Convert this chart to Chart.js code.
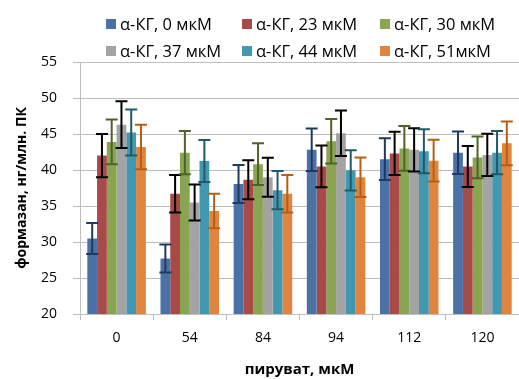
<!DOCTYPE html>
<html>
<head>
<meta charset="utf-8">
<script src="https://cdn.jsdelivr.net/npm/chart.js@4"></script>
<style>
  body { margin: 0; background: #fff; }
</style>
</head>
<body>
<canvas id="chart" width="519" height="379"></canvas>
<script>
const categories = ["0", "54", "84", "94", "112", "120"];
const seriesNames = ["α-КГ, 0 мкМ", "α-КГ, 23 мкМ", "α-КГ, 30 мкМ", "α-КГ, 37 мкМ", "α-КГ, 44 мкМ", "α-КГ, 51мкМ"];

const kg0 = [30.5, 27.7, 38.05, 42.8, 41.5, 42.4];
const kg23 = [42.0, 36.7, 38.65, 40.5, 42.3, 40.5];
const kg30 = [43.9, 42.4, 40.8, 44.0, 43.0, 41.75];
const kg37 = [46.3, 35.5, 39.0, 45.1, 42.8, 42.1];
const kg44 = [45.2, 41.25, 37.2, 39.95, 42.6, 42.4];
const kg51 = [43.2, 34.3, 36.7, 39.0, 41.3, 43.7];

// error bar half-widths
const err0 = [2.15, 1.95, 2.65, 2.95, 2.9, 2.95];
const err23 = [3.0, 2.6, 2.7, 2.9, 3.0, 2.85];
const err30 = [3.1, 3.0, 2.9, 3.1, 3.1, 2.9];
const err37 = [3.25, 2.5, 2.7, 3.15, 3.0, 2.95];
const err44 = [3.2, 2.9, 2.65, 2.8, 3.05, 3.0];
const err51 = [3.1, 2.4, 2.6, 2.75, 2.9, 3.05];

const yTicks = [20, 25, 30, 35, 40, 45, 50, 55];

const fills = ["#4A72A6", "#A84A47", "#8AA552", "#A3A3A3", "#4398B1", "#E0843E"];
const errColors = ["#1F3A5F", "#000000", "#4F6228", "#000000", "#215968", "#B65F14"];

const values = [kg0, kg23, kg30, kg37, kg44, kg51];
const errors = [err0, err23, err30, err37, err44, err51];

const FONT = "'Open Sans', sans-serif";

const errorBars = {
  id: "errorBars",
  afterDatasetsDraw(chart) {
    const ctx = chart.ctx;
    const y = chart.scales.y;
    chart.data.datasets.forEach((ds, i) => {
      const meta = chart.getDatasetMeta(i);
      meta.data.forEach((bar, j) => {
        const v = ds.data[j], e = ds.errors[j];
        const top = y.getPixelForValue(v + e);
        const bot = y.getPixelForValue(v - e);
        ctx.save();
        ctx.strokeStyle = ds.errColor;
        ctx.lineWidth = 2;
        ctx.beginPath();
        ctx.moveTo(bar.x, top); ctx.lineTo(bar.x, bot);
        ctx.moveTo(bar.x - 6, top); ctx.lineTo(bar.x + 6, top);
        ctx.moveTo(bar.x - 6, bot); ctx.lineTo(bar.x + 6, bot);
        ctx.stroke();
        ctx.restore();
      });
    });
  }
};

const legendGrid = {
  id: "legendGrid",
  afterDraw(chart) {
    const ctx = chart.ctx;
    const cols = [106, 242, 380];
    const rows = [24, 51];
    ctx.save();
    ctx.font = "16.5px " + FONT;
    ctx.textBaseline = "middle";
    chart.data.datasets.forEach((ds, i) => {
      const x = cols[i % 3], yy = rows[Math.floor(i / 3)];
      ctx.fillStyle = ds.backgroundColor;
      ctx.fillRect(x, yy - 5, 10, 10);
      ctx.fillStyle = "#000";
      ctx.fillText(ds.label, x + 14, yy + 1);
    });
    ctx.restore();
  }
};

new Chart(document.getElementById("chart"), {
  type: "bar",
  data: {
    labels: categories,
    datasets: seriesNames.map((name, i) => ({
      label: name,
      data: values[i],
      errors: errors[i],
      errColor: errColors[i],
      backgroundColor: fills[i],
      borderWidth: 0,
      categoryPercentage: 0.8,
      barPercentage: 1.0
    }))
  },
  options: {
    responsive: false,
    animation: false,
    layout: { padding: { top: 62, left: 0, right: 0, bottom: 0 } },
    plugins: {
      legend: { display: false },
      tooltip: { enabled: false }
    },
    scales: {
      x: {
        grid: { drawOnChartArea: false, color: "#BEBEBE", tickLength: 6 },
        border: { color: "#BEBEBE" },
        ticks: { color: "#000", font: { family: FONT, size: 14 }, padding: 10 },
        title: {
          display: true, text: "пируват, мкМ", color: "#000",
          font: { family: FONT, size: 15, weight: "bold" }, padding: { top: 6, bottom: 0 }
        },
        afterFit: s => { s.height = 65; }
      },
      y: {
        min: 20, max: 55,
        afterBuildTicks: s => { s.ticks = yTicks.map(v => ({ value: v })); },
        grid: { color: "#BEBEBE", tickLength: 7 },
        border: { color: "#BEBEBE" },
        ticks: { color: "#000", font: { family: FONT, size: 14 }, padding: 16 },
        title: {
          display: true, text: "формазан, нг/млн. ПК", color: "#000",
          font: { family: FONT, size: 14, weight: "bold" }, padding: { top: 14, bottom: 0 }
        },
        afterFit: s => { s.width = 80; }
      }
    }
  },
  plugins: [errorBars, legendGrid]
});
</script>
</body>
</html>
